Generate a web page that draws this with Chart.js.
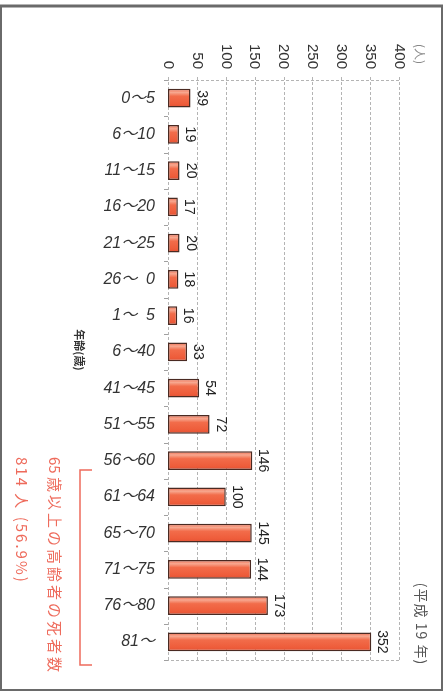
<!DOCTYPE html>
<html>
<head>
<meta charset="utf-8">
<script src="https://cdn.jsdelivr.net/npm/chart.js@4.4.1/dist/chart.umd.min.js"></script>
<style>
  html, body { margin: 0; padding: 0; background: #fff; }
  #wrap { width: 446px; height: 698px; position: relative; }
</style>
</head>
<body>
<div id="wrap"><canvas id="c" width="446" height="698"></canvas></div>
<script>
// Traffic deaths by age group (persons)
const ageGroups = ['0～5', '6～10', '11～15', '16～20', '21～25', '26～\u20070', '1～\u20075', '6～40',
                   '41～45', '51～55', '56～60', '61～64', '65～70', '71～75', '76～80', '81～'];
const deaths = [39, 19, 20, 17, 20, 18, 16, 33, 54, 72, 146, 100, 145, 144, 173, 352];
const axisTicks = [0, 50, 100, 150, 200, 250, 300, 350, 400];
const unitLabel = '(人)';
const yearNote = '(平成 19 年)';
const axisTitle = '年齢(歳)';
// note lines split into runs: [text, letter spacing]
const elderlyNote1 = [['65 ', 0], ['歳以上の高齢者の死者数', 3]];
const elderlyNote2 = [['814 ', 2], ['人', 3], [' (56.9%)', 2]];

const SANS = "'Liberation Sans', Arial, 'Noto Sans CJK JP', sans-serif";
const CJK = "'Noto Sans CJK JP', 'Liberation Sans', sans-serif";
const RED = '#ee6b5c';

// text rotated a quarter turn clockwise (reads top to bottom)
function rotText(ctx, text, x, y, align, baseline) {
  ctx.save();
  ctx.translate(x, y);
  ctx.rotate(Math.PI / 2);
  ctx.textAlign = align;
  ctx.textBaseline = baseline;
  ctx.fillText(text, 0, 0);
  ctx.restore();
}

// rotated runs of text with their own letter spacing
function rotRuns(ctx, runs, x, y) {
  ctx.save();
  ctx.translate(x, y);
  ctx.rotate(Math.PI / 2);
  ctx.textAlign = 'left';
  ctx.textBaseline = 'middle';
  let pos = 0;
  runs.forEach(([txt, sp]) => {
    ctx.letterSpacing = sp + 'px';
    ctx.fillText(txt, pos, 0);
    pos += ctx.measureText(txt).width;
  });
  ctx.letterSpacing = '0px';
  ctx.restore();
}

function barFill(ctx) {
  const chart = ctx.chart;
  const ys = chart.scales && chart.scales.y;
  if (!ys || ctx.dataIndex === undefined) return '#ef6541';
  const yc = ys.getPixelForValue(ctx.dataIndex);
  if (!isFinite(yc)) return '#ef6541';
  const h = 9.5;
  const g = chart.ctx.createLinearGradient(0, yc - h, 0, yc + h);
  g.addColorStop(0, '#ee6446');
  g.addColorStop(0.2, '#f7a890');
  g.addColorStop(0.4, '#f26c4a');
  g.addColorStop(0.8, '#ee5c3a');
  g.addColorStop(1, '#de5034');
  return g;
}

const decor = {
  id: 'decor',
  beforeDatasetsDraw(chart) {
    const ctx = chart.ctx;
    const xs = chart.scales.x, ys = chart.scales.y;
    const a = chart.chartArea;
    ctx.save();
    // frame
    ctx.strokeStyle = '#6a6a6a';
    ctx.lineWidth = 2;
    ctx.strokeRect(1, 6, 441, 684);
    ctx.lineWidth = 3;
    ctx.beginPath(); ctx.moveTo(0, 6); ctx.lineTo(443, 6); ctx.stroke();

    // dashed grid
    ctx.strokeStyle = '#b4b4b4';
    ctx.lineWidth = 1;
    ctx.setLineDash([3, 2]);
    axisTicks.forEach(t => {
      const x = Math.round(xs.getPixelForValue(t)) + 0.5;
      ctx.beginPath(); ctx.moveTo(x, a.top - 3); ctx.lineTo(x, a.bottom + 2); ctx.stroke();
    });
    [a.top, a.bottom].forEach(y => {
      const yy = Math.round(y) + 0.5;
      ctx.beginPath(); ctx.moveTo(a.left - 2, yy); ctx.lineTo(a.right + 2, yy); ctx.stroke();
    });
    ctx.setLineDash([]);
    // small marks on the category axis
    ctx.strokeStyle = '#a0a0a0';
    for (let i = 0; i <= ageGroups.length; i++) {
      const y = Math.round(ys.getPixelForValue(i - 0.5)) + 0.5;
      ctx.beginPath(); ctx.moveTo(a.left - 4, y); ctx.lineTo(a.left, y); ctx.stroke();
    }
    ctx.restore();
  },
  afterDatasetsDraw(chart) {
    const ctx = chart.ctx;
    const xs = chart.scales.x, ys = chart.scales.y;
    const a = chart.chartArea;
    ctx.save();

    // value axis tick labels
    ctx.fillStyle = '#333';
    ctx.font = '15px ' + SANS;
    axisTicks.forEach(t => {
      rotText(ctx, String(t), xs.getPixelForValue(t), a.top - 11, 'right', 'middle');
    });
    ctx.fillStyle = '#888';
    ctx.font = '12px ' + CJK;
    rotText(ctx, unitLabel, a.right + 21, a.top - 16, 'right', 'middle');

    // age group labels
    ctx.fillStyle = '#333';
    ctx.font = 'italic 16px ' + SANS;
    ctx.textAlign = 'right';
    ctx.textBaseline = 'middle';
    ageGroups.forEach((g, i) => {
      ctx.fillText(g, a.left - 13, ys.getPixelForValue(i));
    });

    // value labels at the bar ends
    ctx.fillStyle = '#222';
    ctx.font = '14px ' + SANS;
    deaths.forEach((v, i) => {
      rotText(ctx, String(v), xs.getPixelForValue(v) + 7, ys.getPixelForValue(i), 'center', 'alphabetic');
    });

    // category axis title
    ctx.fillStyle = '#333';
    ctx.font = 'bold 11px ' + CJK;
    rotText(ctx, axisTitle, 79, 350, 'center', 'middle');

    // year note
    ctx.fillStyle = '#555';
    ctx.font = '14px ' + CJK;
    ctx.letterSpacing = '1px';
    rotText(ctx, yearNote, 421, 624, 'center', 'middle');
    ctx.letterSpacing = '0px';

    // bracket and note for the 65+ groups
    ctx.strokeStyle = RED;
    ctx.lineWidth = 1.5;
    ctx.beginPath();
    ctx.moveTo(92, 470); ctx.lineTo(80, 470); ctx.lineTo(80, 665); ctx.lineTo(92, 665);
    ctx.stroke();
    ctx.fillStyle = RED;
    ctx.font = '15px ' + CJK;
    rotRuns(ctx, elderlyNote1, 55, 457);
    rotRuns(ctx, elderlyNote2, 22, 457);
    ctx.restore();
  }
};

new Chart(document.getElementById('c'), {
  type: 'bar',
  data: {
    labels: ageGroups,
    datasets: [{
      data: deaths,
      backgroundColor: barFill,
      borderColor: '#4a2a22',
      borderWidth: 1.5,
      borderSkipped: false,
      barPercentage: 0.52,
      categoryPercentage: 1
    }]
  },
  options: {
    indexAxis: 'y',
    responsive: false,
    animation: false,
    devicePixelRatio: 1,
    layout: { padding: { left: 168, right: 47, top: 80, bottom: 38 } },
    plugins: { legend: { display: false }, tooltip: { enabled: false } },
    scales: {
      x: { display: false, min: 0, max: 400 },
      y: { display: false, offset: true }
    }
  },
  plugins: [decor]
});
</script>
</body>
</html>
